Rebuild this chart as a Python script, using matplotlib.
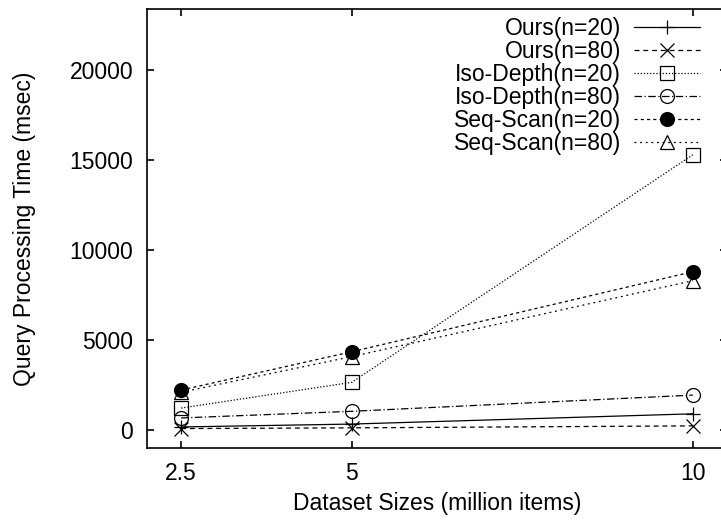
import matplotlib
matplotlib.use("Agg")
import matplotlib.pyplot as plt

plt.rcParams['font.family'] = ['Liberation Sans', 'DejaVu Sans']

sizes = [2.5, 5, 10]
ours_20 = [170, 330, 900]
ours_80 = [80, 120, 230]
iso_20 = [1220, 2650, 15300]
iso_80 = [670, 1040, 1940]
seq_20 = [2220, 4350, 8800]
seq_80 = [2100, 4080, 8300]
labels = ['Ours(n=20)', 'Ours(n=80)', 'Iso-Depth(n=20)', 'Iso-Depth(n=80)',
          'Seq-Scan(n=20)', 'Seq-Scan(n=80)']
yticks = [0, 5000, 10000, 15000, 20000]

W, H = 721, 520
FS = 16.5
fig = plt.figure(figsize=(W / 100, H / 100), dpi=100)
ax = fig.add_axes([147 / W, 1 - 448 / H, 580 / W, 439 / H])

lw = 0.9
ms = 10
ax.plot(sizes, ours_20, color='black', lw=lw, ls='-', marker='+', ms=ms, mew=lw, label=labels[0])
ax.plot(sizes, ours_80, color='black', lw=lw, ls=(0, (4, 3)), marker='x', ms=ms, mew=lw, label=labels[1])
ax.plot(sizes, iso_20, color='black', lw=lw, ls=(0, (1, 1.5)), marker='s', ms=ms, mew=lw,
        mfc='none', label=labels[2])
ax.plot(sizes, iso_80, color='black', lw=lw, ls=(0, (6, 2, 1, 2)), marker='o', ms=ms, mew=lw,
        mfc='none', label=labels[3])
ax.plot(sizes, seq_20, color='black', lw=lw, ls=(0, (2.5, 2.5)), marker='o', ms=ms, mew=lw,
        mfc='black', label=labels[4])
ax.plot(sizes, seq_80, color='black', lw=lw, ls=(0, (1.5, 3)), marker='^', ms=ms, mew=lw,
        mfc='none', label=labels[5])

ax.set_xlim(2.0, 10.5)
ax.set_ylim(-1000, 23400)
ax.set_xticks(sizes)
ax.set_xticklabels(['2.5', '5', '10'])
ax.set_yticks(yticks)
ax.set_yticklabels([str(v) for v in yticks])

for s in ax.spines.values():
    s.set_linewidth(1.2)
ax.tick_params(direction='in', length=5, width=1.2, top=True, right=True, labelsize=FS)
ax.tick_params(axis='y', pad=10)
ax.tick_params(axis='x', pad=10)

ax.set_xlabel('Dataset Sizes (million items)', fontsize=FS, labelpad=5)
ax.set_ylabel('Query Processing Time (msec)', fontsize=FS, labelpad=24)

leg = ax.legend(loc='upper right', bbox_to_anchor=(700 / W, 1 - 17 / H),
                bbox_transform=fig.transFigure, markerfirst=False, frameon=False,
                fontsize=FS, handlelength=2.9, handletextpad=0.55, labelspacing=0.0,
                borderpad=0, borderaxespad=0)

fig.savefig('out.png', dpi=100)
